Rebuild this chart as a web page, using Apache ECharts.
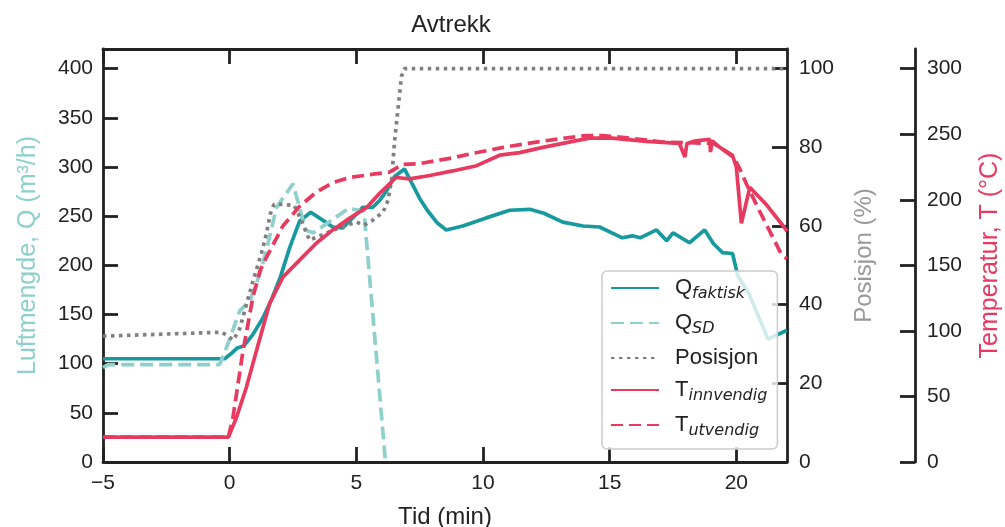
<!DOCTYPE html>
<html>
<head>
<meta charset="utf-8">
<script src="https://cdn.jsdelivr.net/npm/echarts@6/dist/echarts.min.js"></script>
<style>html,body{margin:0;padding:0;background:#fff;overflow:hidden;}#c{width:1005px;height:527px;}</style>
</head>
<body>
<div id="c"></div>
<script>
// ---- Data ----
const xTicks = [-5, 0, 5, 10, 15, 20];
const qTicks = [0, 50, 100, 150, 200, 250, 300, 350, 400];
const posTicks = [0, 20, 40, 60, 80, 100];
const tTicks = [0, 50, 100, 150, 200, 250, 300];

const qFaktiskT = [-5, -0.2, 0.05, 0.3, 0.55, 0.9, 1.3, 1.65, 2.0, 2.37, 2.76, 3.2, 3.67, 4.07, 4.46, 5.0, 5.25, 5.65, 5.92, 6.2, 6.5, 6.9, 7.2, 7.5, 7.8, 8.2, 8.55, 9.2, 10.1, 11.05, 11.85, 12.4, 13.15, 13.95, 14.6, 15.5, 15.9, 16.2, 16.85, 17.25, 17.5, 18.15, 18.75, 19.1, 19.45, 19.85, 20.05, 20.5, 21.25, 22];
const qFaktiskV = [105, 105, 110, 116, 118, 129, 146, 165, 188, 218, 245, 254, 246, 239, 238, 252, 259, 259, 266, 276, 290, 298, 283, 268, 256, 243, 236, 240, 248, 256, 257, 253, 244, 240, 239, 228, 230, 228, 236, 225, 233, 223, 236, 222, 213, 212, 190, 171, 125, 134];

const qSdT = [-5, -4.8, -0.4, -0.1, 0.4, 0.8, 1.2, 1.45, 1.85, 2.5, 3.0, 3.3, 4.7, 5.3, 6.15];
const qSdV = [96, 99, 99, 118, 154, 164, 192, 215, 259, 283, 236, 233, 258, 255, 0];

const posT = [-5, -0.3, 0.15, 0.4, 0.66, 0.92, 1.25, 1.45, 1.6, 1.75, 2.1, 2.55, 2.83, 3.15, 3.6, 4.3, 5.0, 5.3, 5.65, 6.05, 6.25, 6.4, 6.5, 6.64, 6.78, 6.9, 22];
const posV = [32, 33, 31, 34, 40, 46, 53, 58, 63, 65.5, 65.5, 65.2, 61.4, 56.4, 57.6, 59.5, 61, 60.2, 61.5, 63.5, 66.5, 72, 81, 89.5, 98, 100, 100];

const tInnT = [-5, -0.05, 0.27, 0.66, 1.06, 1.58, 2.1, 2.76, 3.43, 4.07, 4.74, 5.4, 5.92, 6.57, 7.1, 7.9, 8.8, 9.75, 10.66, 11.45, 12.36, 13.4, 14.2, 15.1, 16.45, 17.75, 17.97, 18.05, 18.4, 18.95, 18.98, 19.05, 19.35, 19.87, 20.0, 20.2, 20.53, 21.2, 21.85, 22];
const tInnV = [19, 19, 34, 57, 85, 121, 141, 154, 167, 177, 186, 194, 205, 217, 216, 218.5, 222, 226, 234, 236, 240, 244, 247, 247, 244.6, 243, 232.6, 243, 245, 246, 236.4, 245, 240, 232.6, 225, 182, 209.5, 196, 180, 176];

const tUtT = [-5, -0.05, 0.13, 0.52, 0.92, 1.2, 1.45, 2.1, 2.76, 3.43, 4.07, 4.74, 5.65, 6.3, 6.83, 7.5, 8.2, 8.8, 9.5, 10.8, 12.1, 13.4, 14.1, 14.7, 15.8, 17.1, 19.1, 19.85, 20.1, 20.4, 20.9, 21.45, 21.8, 22];
const tUtV = [19, 19, 34, 84, 126, 146, 156, 180, 195, 206, 213, 217, 219.5, 221, 227, 227.6, 230, 232, 235, 240, 244, 247.5, 249, 249, 247, 244, 243, 234, 225, 212, 192, 171, 157.5, 155];

const seriesNames = ['Qf', 'Qsd', 'Pos', 'Tin', 'Tut'];
const legendLabels = {
  Qf: '{m|Q}{s|faktisk}',
  Qsd: '{m|Q}{s|SD}',
  Pos: '{m|Posisjon}',
  Tin: '{m|T}{s|innvendig}',
  Tut: '{m|T}{s|utvendig}'
};

// ---- Build ----
function zip(a, b) { return a.map((v, i) => [v, b[i]]); }
const FONT = '"Liberation Sans", Arial, Helvetica, sans-serif';
const C_QF = '#17999d', C_QSD = '#8ed0cc', C_POS = '#7f7f7f', C_T = '#e83a5f';
const AX = '#222';
const LW = 3.7;
const NAME_FS = 24;
const tickStyle = {show: true, inside: true, length: 15, lineStyle: {color: AX, width: 2.8}};
const lineStyleAx = {show: true, onZero: false, lineStyle: {color: AX, width: 2.8}};
const minusFmt = v => (v < 0 ? '\u2212' + (-v) : String(v));

const chart = echarts.init(document.getElementById('c'), null, {renderer: 'canvas'});
chart.setOption({
  animation: false,
  backgroundColor: '#fff',
  textStyle: {fontFamily: FONT},
  title: {
    text: 'Avtrekk', left: 446, top: 8, textAlign: 'center',
    textStyle: {fontFamily: FONT, fontSize: 24, fontWeight: 'normal', color: '#222'}
  },
  grid: {left: 103, top: 49, right: 218, bottom: 65, containLabel: false, outerBoundsMode: 'none'},
  legend: {
    orient: 'vertical', left: 602, top: 271,
    data: seriesNames,
    backgroundColor: 'rgba(255,255,255,0.8)', borderColor: '#cccccc', borderWidth: 1.5, borderRadius: 5,
    padding: [6, 10, 10, 8], itemWidth: 48, itemHeight: 14, itemGap: 10,
    itemStyle: {opacity: 0},
    formatter: n => legendLabels[n],
    textStyle: {
      fontFamily: FONT, fontSize: 22, color: '#222',
      rich: {
        m: {fontFamily: FONT, fontSize: 22, color: '#222', lineHeight: 25, padding: [0, 0, 0, 11]},
        s: {fontFamily: '"DejaVu Sans", sans-serif', fontSize: 16, fontStyle: 'italic', color: '#222', padding: [12, 0, 0, 0]}
      }
    }
  },
  xAxis: [
    {
      type: 'value', min: -5, max: 22, position: 'bottom',
      name: 'Tid (min)', nameLocation: 'middle', nameGap: 43,
      nameTextStyle: {fontFamily: FONT, fontSize: NAME_FS, color: '#222'},
      axisLine: lineStyleAx,
      axisTick: Object.assign({customValues: xTicks}, tickStyle),
      axisLabel: {customValues: xTicks, formatter: minusFmt, fontFamily: FONT, fontSize: 21, color: '#222', margin: 11},
      splitLine: {show: false}
    },
    {
      type: 'value', min: -5, max: 22, position: 'top',
      axisLine: lineStyleAx,
      axisTick: Object.assign({customValues: xTicks}, tickStyle),
      axisLabel: {show: false},
      splitLine: {show: false}
    }
  ],
  yAxis: [
    {
      type: 'value', min: 0, max: 420, position: 'left',
      name: 'Luftmengde, Q (m³/h)', nameLocation: 'middle', nameGap: 62,
      nameTextStyle: {fontFamily: FONT, fontSize: 25, color: C_QSD},
      axisLine: lineStyleAx,
      axisTick: Object.assign({customValues: qTicks}, tickStyle),
      axisLabel: {customValues: qTicks, fontFamily: FONT, fontSize: 21, color: '#222', margin: 10},
      splitLine: {show: false}
    },
    {
      type: 'value', min: 0, max: 105, position: 'right', offset: 0,
      name: 'Posisjon (%)', nameLocation: 'middle', nameGap: 65, nameRotate: 90,
      nameTextStyle: {fontFamily: FONT, fontSize: NAME_FS, color: '#999999'},
      axisLine: lineStyleAx,
      axisTick: Object.assign({customValues: posTicks}, tickStyle),
      axisLabel: {customValues: posTicks, fontFamily: FONT, fontSize: 21, color: '#222', margin: 12},
      splitLine: {show: false}
    },
    {
      type: 'value', min: 0, max: 315, position: 'right', offset: 128,
      name: 'Temperatur, T (°C)', nameLocation: 'middle', nameGap: 63, nameRotate: 90,
      nameTextStyle: {fontFamily: FONT, fontSize: 25, color: C_T},
      axisLine: lineStyleAx,
      axisTick: Object.assign({customValues: tTicks}, tickStyle),
      axisLabel: {customValues: tTicks, fontFamily: FONT, fontSize: 21, color: '#222', margin: 12},
      splitLine: {show: false}
    }
  ],
  series: [
    {name: 'Qf', type: 'line', xAxisIndex: 0, yAxisIndex: 0, data: zip(qFaktiskT, qFaktiskV), symbol: 'none', color: C_QF,
     lineStyle: {color: C_QF, width: LW}},
    {name: 'Qsd', type: 'line', xAxisIndex: 0, yAxisIndex: 0, data: zip(qSdT, qSdV), symbol: 'none', color: C_QSD,
     lineStyle: {color: C_QSD, width: LW, type: [13, 6]}},
    {name: 'Pos', type: 'line', xAxisIndex: 0, yAxisIndex: 1, data: zip(posT, posV), symbol: 'none', color: C_POS,
     lineStyle: {color: C_POS, width: LW, type: [3.5, 4.5], cap: 'butt'}},
    {name: 'Tin', type: 'line', xAxisIndex: 0, yAxisIndex: 2, data: zip(tInnT, tInnV), symbol: 'none', color: C_T,
     lineStyle: {color: C_T, width: LW}},
    {name: 'Tut', type: 'line', xAxisIndex: 0, yAxisIndex: 2, data: zip(tUtT, tUtV), symbol: 'none', color: C_T,
     lineStyle: {color: C_T, width: LW, type: [12, 6]}}
  ]
});
</script>
</body>
</html>
